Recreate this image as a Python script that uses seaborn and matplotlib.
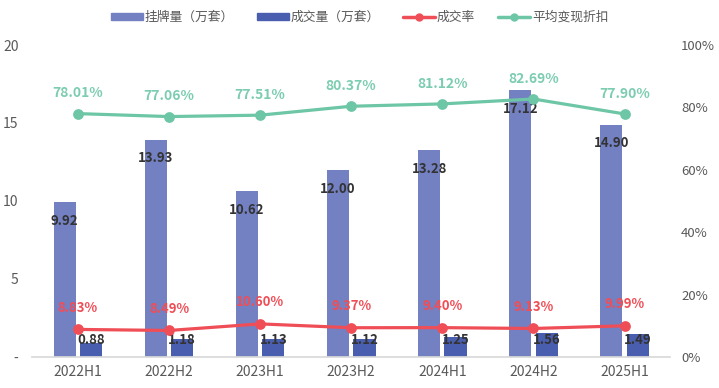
import numpy as np
import pandas as pd
import matplotlib
matplotlib.use("Agg")
import matplotlib.pyplot as plt
from matplotlib.patches import Patch
from matplotlib.lines import Line2D
from matplotlib.ticker import FuncFormatter
import seaborn as sns

# data
periods = ["2022H1", "2022H2", "2023H1", "2023H2", "2024H1", "2024H2", "2025H1"]
listing = [9.92, 13.93, 10.62, 12.00, 13.28, 17.12, 14.90]   # 挂牌量（万套）
deals = [0.88, 1.18, 1.13, 1.12, 1.25, 1.56, 1.49]           # 成交量（万套）
deal_rate = [8.83, 8.49, 10.60, 9.37, 9.40, 9.13, 9.99]      # 成交率 %
discount = [78.01, 77.06, 77.51, 80.37, 81.12, 82.69, 77.90] # 平均变现折扣 %

names = ["挂牌量（万套）", "成交量（万套）", "成交率", "平均变现折扣"]
c_list, c_deal, c_red, c_green = "#7380C2", "#4A5EAF", "#F04E57", "#6DC6A5"
grey = "#595959"

sns.set_theme(style="white")
plt.rcParams["font.family"] = ["Noto Sans CJK SC", "DejaVu Sans"]

df = pd.DataFrame({
    "period": periods * 2,
    "value": listing + deals,
    "series": [names[0]] * len(periods) + [names[1]] * len(periods),
})

fig, ax = plt.subplots(figsize=(7.19, 3.88), dpi=100)
fig.subplots_adjust(left=0.045, right=0.932, bottom=0.08, top=0.884)

sns.barplot(data=df, x="period", y="value", hue="series", palette=[c_list, c_deal],
            width=0.58, gap=0.16, saturation=1, linewidth=0, ax=ax, legend=False)
ax.set_ylim(0, 20)
ax.set_yticks([0, 5, 10, 15, 20])
ax.yaxis.set_major_formatter(FuncFormatter(lambda v, _: "-" if v == 0 else f"{v:g}"))
ax.set_xlabel(""); ax.set_ylabel("")

# bar labels
for bar, v in zip(ax.containers[0], listing):
    ax.text(bar.get_x() + bar.get_width() / 2, v - 1.2, f"{v:.2f}", ha="center", va="center",
            fontsize=9.5, fontweight="bold", color="#333333")
for bar, v in zip(ax.containers[1], deals):
    ax.text(bar.get_x() + bar.get_width() / 2, 1.1, f"{v:.2f}", ha="center", va="center",
            fontsize=9.5, fontweight="bold", color="#333333")

# lines on right axis
ax2 = ax.twinx()
sns.pointplot(x=periods, y=deal_rate, color=c_red, ax=ax2, markersize=6, linewidth=2.3)
sns.pointplot(x=periods, y=discount, color=c_green, ax=ax2, markersize=6, linewidth=2.3)
ax2.set_ylim(0, 100)
ax2.set_yticks(range(0, 101, 20))
ax2.yaxis.set_major_formatter(FuncFormatter(lambda v, _: f"{v:.0f}%"))
ax2.set_ylabel("")

for i, v in enumerate(deal_rate):
    ax2.text(i, v + 7, f"{v:.2f}%", ha="center", va="center", fontsize=9.5,
             fontweight="bold", color=c_red)
for i, v in enumerate(discount):
    ax2.text(i, v + 6.5, f"{v:.2f}%", ha="center", va="center", fontsize=10,
             fontweight="bold", color="#7CCDB0")

# axes styling
for a in (ax, ax2):
    for s in a.spines.values():
        s.set_visible(False)
ax.spines["bottom"].set_visible(True)
ax.spines["bottom"].set_color("#D9D9D9")
ax.tick_params(axis="both", length=0, labelsize=10, labelcolor=grey)
ax.tick_params(axis="y", pad=10)
ax.tick_params(axis="x", pad=6)
ax2.tick_params(axis="y", length=0, labelsize=9.5, labelcolor=grey, pad=8)

# legend
handles = [
    Patch(color=c_list), Patch(color=c_deal),
    Line2D([], [], color=c_red, lw=2.5, marker="o", markersize=5),
    Line2D([], [], color=c_green, lw=2.5, marker="o", markersize=5),
]
fig.legend(handles, names, loc="center", bbox_to_anchor=(0.5, 0.955), ncol=4,
           frameon=False, fontsize=9.2, handlelength=2.5, handleheight=0.55,
           columnspacing=1.8, handletextpad=0.15, labelcolor=grey)

fig.savefig("out.png", dpi=100)
